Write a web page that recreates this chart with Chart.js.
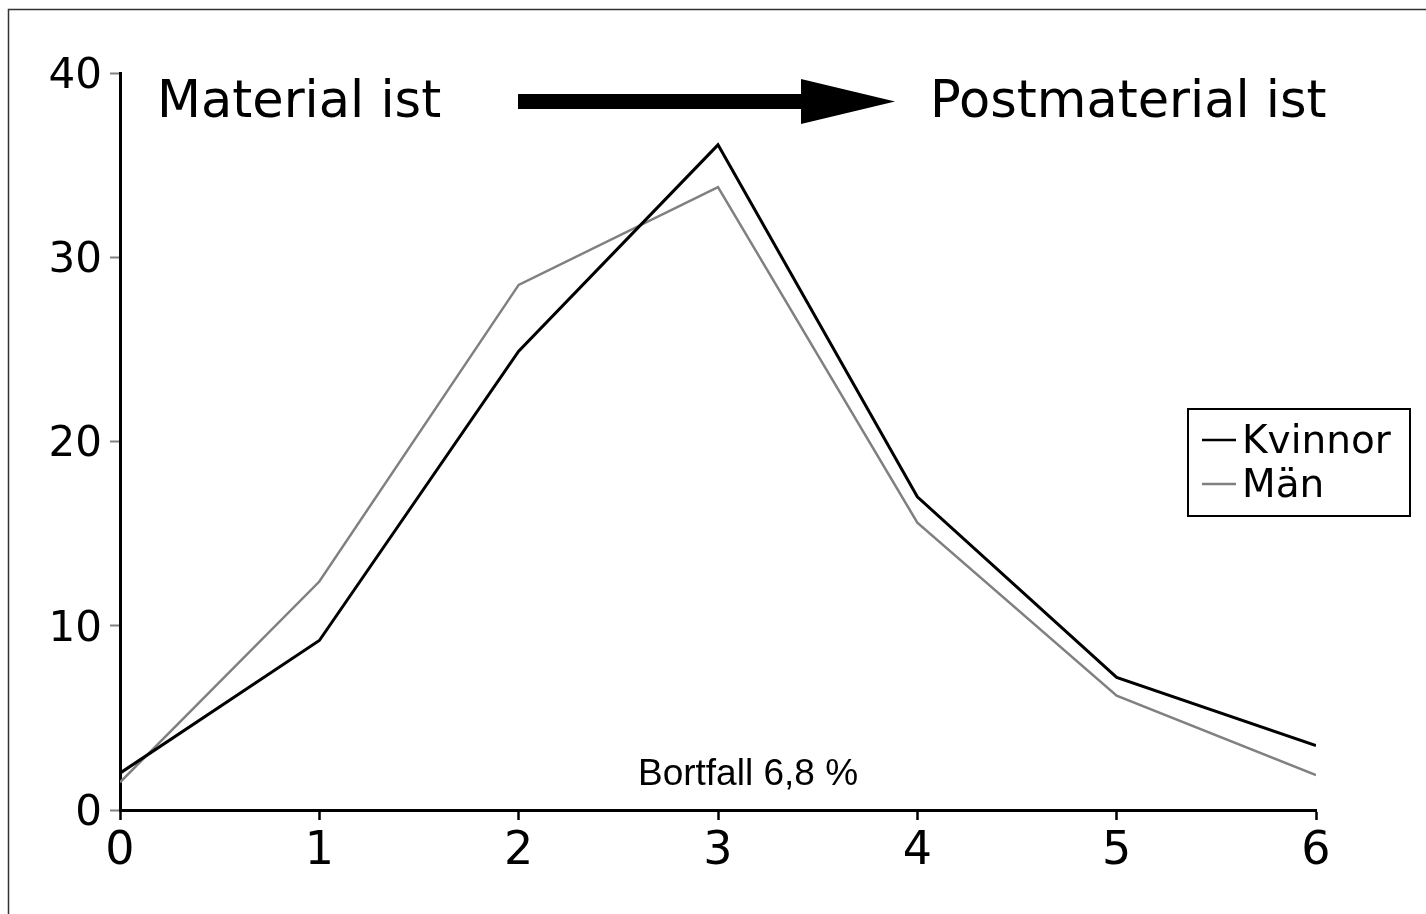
<!DOCTYPE html>
<html>
<head>
<meta charset="utf-8">
<script src="https://cdn.jsdelivr.net/npm/chart.js@4/dist/chart.umd.min.js"></script>
<style>
html,body{margin:0;padding:0;background:#fff;}
#wrap{position:absolute;left:0;top:0;width:1426px;height:914px;}
</style>
</head>
<body>
<div id="wrap"><canvas id="c" width="1426" height="914"></canvas></div>
<script>
const categories = [0, 1, 2, 3, 4, 5, 6];
const kvinnor = [2.0, 9.2, 24.9, 36.1, 17.0, 7.2, 3.5];
const man = [1.5, 12.4, 28.5, 33.8, 15.6, 6.2, 1.9];
const yTicks = [0, 10, 20, 30, 40];
const seriesNames = ['Kvinnor', 'Män'];
const leftLabel = 'Material ist';
const rightLabel = 'Postmaterial ist';
const noteLabel = 'Bortfall 6,8 %';

const FONT = '"DejaVu Sans", Verdana, sans-serif';

const decor = {
  id: 'decor',
  beforeDraw(chart) {
    const ctx = chart.ctx;
    ctx.save();
    ctx.fillStyle = '#fff';
    ctx.fillRect(0, 0, chart.width, chart.height);
    ctx.strokeStyle = '#333';
    ctx.lineWidth = 1.5;
    ctx.beginPath();
    ctx.moveTo(8.5, chart.height);
    ctx.lineTo(8.5, 9.5);
    ctx.lineTo(chart.width, 9.5);
    ctx.stroke();
    ctx.restore();
  },
  afterDraw(chart) {
    const ctx = chart.ctx;
    ctx.save();
    ctx.fillStyle = '#000';
    ctx.textBaseline = 'alphabetic';
    ctx.font = '51px ' + FONT;
    ctx.textAlign = 'left';
    ctx.fillText(leftLabel, 157, 117);
    ctx.fillText(rightLabel, 930, 117);
    // arrow
    ctx.fillRect(518, 94, 286, 15);
    ctx.beginPath();
    ctx.moveTo(801, 79);
    ctx.lineTo(895, 101.5);
    ctx.lineTo(801, 124);
    ctx.closePath();
    ctx.fill();
    // note
    ctx.font = '37px "Liberation Sans", Arial, sans-serif';
    ctx.textAlign = 'center';
    ctx.fillText(noteLabel, 748, 785);
    // legend
    const lx = 1188, ly = 409, lw = 222, lh = 107;
    ctx.lineWidth = 2;
    ctx.strokeStyle = '#000';
    ctx.strokeRect(lx, ly, lw, lh);
    ctx.font = '39px ' + FONT;
    ctx.textAlign = 'left';
    const rows = [440, 484];
    chart.data.datasets.forEach((ds, i) => {
      ctx.strokeStyle = ds.borderColor;
      ctx.lineWidth = 2.5;
      ctx.beginPath();
      ctx.moveTo(1202, rows[i]);
      ctx.lineTo(1236, rows[i]);
      ctx.stroke();
      ctx.fillStyle = '#000';
      ctx.fillText(ds.label, 1242, rows[i] + 13);
    });
    ctx.restore();
  }
};

new Chart(document.getElementById('c'), {
  type: 'line',
  data: {
    datasets: [
      { label: seriesNames[0], data: categories.map((x, i) => ({x, y: kvinnor[i]})), borderColor: '#000', borderWidth: 3, pointRadius: 0, tension: 0, fill: false },
      { label: seriesNames[1], data: categories.map((x, i) => ({x, y: man[i]})), borderColor: '#808080', borderWidth: 2.5, pointRadius: 0, tension: 0, fill: false }
    ]
  },
  options: {
    responsive: false,
    animation: false,
    devicePixelRatio: 1,
    layout: { padding: { left: 0, top: 73, right: 110, bottom: 0 } },
    plugins: { legend: { display: false }, tooltip: { enabled: false } },
    scales: {
      x: {
        type: 'linear', min: 0, max: 6,
        afterFit(s) { s.height = 104; },
        afterBuildTicks(s) { s.ticks = categories.map(v => ({value: v})); },
        grid: { drawOnChartArea: false, drawTicks: true, tickLength: 10, tickColor: '#000', tickWidth: 2.5 },
        border: { display: true, color: '#000', width: 3 },
        ticks: { color: '#000', font: { family: FONT, size: 46 }, padding: 4, maxRotation: 0 }
      },
      y: {
        min: 0, max: 40,
        afterFit(s) { s.width = 120; },
        afterBuildTicks(s) { s.ticks = yTicks.map(v => ({value: v})); },
        grid: { drawOnChartArea: false, drawTicks: true, tickLength: 10, tickColor: '#808080', tickWidth: 2 },
        border: { display: true, color: '#000', width: 3 },
        ticks: { color: '#000', font: { family: FONT, size: 42 }, padding: 8, labelOffset: 4 }
      }
    }
  },
  plugins: [decor]
});
</script>
</body>
</html>
